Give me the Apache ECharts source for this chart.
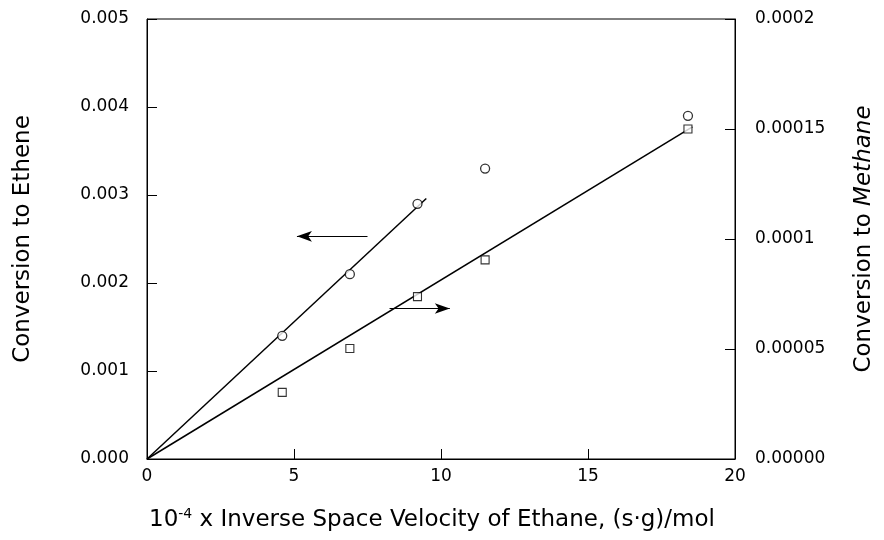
<!DOCTYPE html>
<html><head><meta charset="utf-8">
<script src="https://cdn.jsdelivr.net/npm/echarts@6/dist/echarts.min.js"></script>
<style>html,body{margin:0;padding:0;background:#fff}#c{width:884px;height:540px}</style>
</head><body><div id="c"></div>
<script>
const FONT = '"DejaVu Sans", sans-serif';
const velocityX = [4.6, 6.9, 9.2, 11.5, 18.4];
const ethene = [0.0014, 0.0021, 0.0029, 0.0033, 0.0039];
const methane = [0.0000303, 0.0000502, 0.0000738, 0.0000905, 0.000150];
const etheneFitX = [0, 9.5];
const etheneFitY = [0, 0.00296];
const methaneFitX = [0, 18.55];
const methaneFitY = [0, 0.000151];
const leftArrow = [[7.5, 0.00253], [5.1, 0.00253]];
const rightArrow = [[8.25, 0.00171], [10.3, 0.00171]];
const xTicks = [0, 5, 10, 15, 20];
const rightTickLabels = ['0.00000', '0.00005', '0.0001', '0.00015', '0.0002'];

const chart = echarts.init(document.getElementById('c'));
const lbl = {color: '#000', fontFamily: FONT, fontSize: 17};
chart.setOption({
  animation: false,
  backgroundColor: '#fff',
  grid: {left: 147, right: 147, top: 19, bottom: 81, show: true, borderColor: '#000', borderWidth: 1},
  xAxis: {
    type: 'value', min: 0, max: 20, interval: 5,
    axisLine: {lineStyle: {color: '#000'}},
    axisTick: {inside: true, length: 10, lineStyle: {color: '#000'}},
    splitLine: {show: false},
    axisLabel: Object.assign({margin: 9, formatter: v => xTicks.includes(v) ? String(v) : ''}, lbl),
    name: '{n|10}{s|-4}{n| x Inverse Space Velocity of Ethane, (s·g)/mol}',
    nameLocation: 'middle', nameGap: 48,
    nameTextStyle: {padding: [0, 18, 0, 0], rich: {
      n: {fontFamily: FONT, fontSize: 23, color: '#000'},
      s: {fontFamily: FONT, fontSize: 14, color: '#000', verticalAlign: 'top', padding: [0,0,12,0]}
    }}
  },
  yAxis: [{
    type: 'value', min: 0, max: 0.005, interval: 0.001, position: 'left',
    axisLine: {show: true, lineStyle: {color: '#000'}},
    axisTick: {show: true, inside: true, length: 10, lineStyle: {color: '#000'}},
    splitLine: {show: false},
    axisLabel: Object.assign({margin: 18, formatter: v => v.toFixed(3)}, lbl),
    name: 'Conversion to Ethene', nameLocation: 'middle', nameGap: 112,
    nameTextStyle: {fontFamily: FONT, fontSize: 23, color: '#000'}
  }, {
    type: 'value', min: 0, max: 0.0002, interval: 0.00005, position: 'right',
    axisLine: {show: true, lineStyle: {color: '#000'}},
    axisTick: {show: true, inside: true, length: 10, lineStyle: {color: '#000'}},
    splitLine: {show: false},
    axisLabel: Object.assign({margin: 20, formatter: (v, i) => rightTickLabels[i]}, lbl),
    name: '{n|Conversion to }{i|Methane}', nameLocation: 'middle', nameGap: 118, nameRotate: 90,
    nameTextStyle: {rich: {
      n: {fontFamily: FONT, fontSize: 23, color: '#000'},
      i: {fontFamily: FONT, fontSize: 23, color: '#000', fontStyle: 'italic'}
    }}
  }],
  series: [{
    type: 'line', yAxisIndex: 0,
    data: etheneFitX.map((x, i) => [x, etheneFitY[i]]),
    showSymbol: false, symbol: 'none', lineStyle: {color: '#000', width: 1.5}, z: 2,
    markLine: {
      silent: true, symbol: ['none', 'arrow'], symbolSize: [8, 15],
      lineStyle: {color: '#000', width: 1.2, type: 'solid'}, label: {show: false},
      data: [
        [{coord: leftArrow[0]}, {coord: leftArrow[1]}],
        [{coord: rightArrow[0]}, {coord: rightArrow[1]}]
      ]
    }
  }, {
    type: 'line', yAxisIndex: 1,
    data: methaneFitX.map((x, i) => [x, methaneFitY[i]]),
    showSymbol: false, symbol: 'none', lineStyle: {color: '#000', width: 1.5}, z: 2
  }, {
    type: 'scatter', yAxisIndex: 0,
    data: velocityX.map((x, i) => [x, ethene[i]]),
    symbol: 'circle', symbolSize: 9,
    itemStyle: {color: '#fff', borderColor: '#000', borderWidth: 1.3}, z: 3
  }, {
    type: 'scatter', yAxisIndex: 1,
    data: velocityX.map((x, i) => [x, methane[i]]),
    symbol: 'rect', symbolSize: 8,
    itemStyle: {color: '#fff', borderColor: '#000', borderWidth: 1.1}, z: 3
  }]
});
</script></body></html>
